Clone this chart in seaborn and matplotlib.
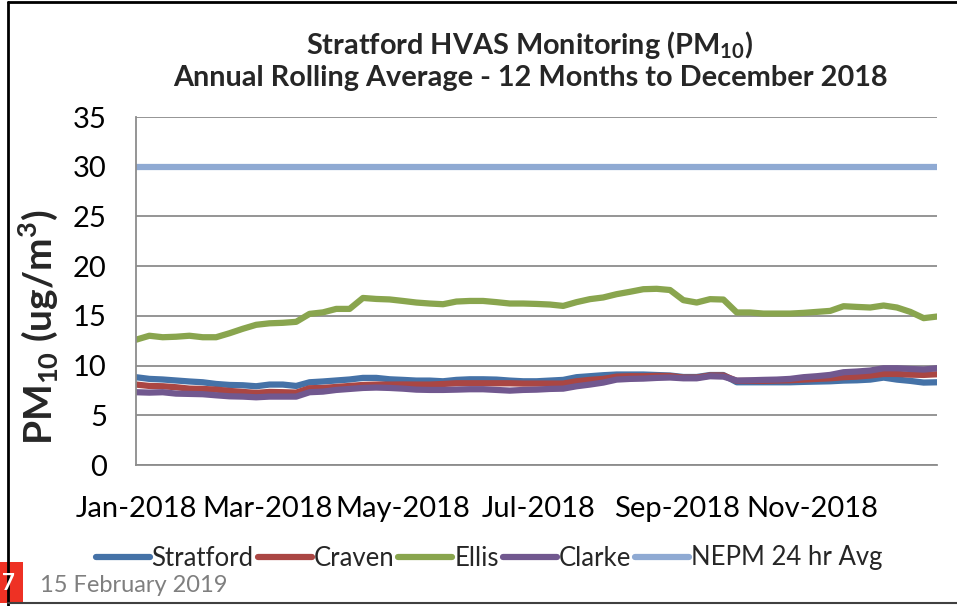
import matplotlib
matplotlib.use("Agg")
import matplotlib.pyplot as plt
import matplotlib.dates as mdates
from matplotlib.lines import Line2D
from matplotlib.patches import Rectangle
import seaborn as sns
import pandas as pd

# HVAS samples every 6 days through 2018
dates = pd.date_range("2018-01-01", periods=61, freq="6D")

stratford = [8.83, 8.66, 8.60, 8.50, 8.40, 8.32, 8.15, 8.05, 8.02, 7.92,
             8.09, 8.09, 7.95, 8.32, 8.40, 8.50, 8.60, 8.76, 8.76, 8.62,
             8.56, 8.49, 8.49, 8.42, 8.56, 8.62, 8.62, 8.59, 8.49, 8.42,
             8.42, 8.49, 8.56, 8.83, 8.93, 9.03, 9.10, 9.10, 9.10, 9.05,
             9.00, 8.85, 8.85, 9.05, 9.05, 8.32, 8.32, 8.32, 8.32, 8.32,
             8.36, 8.39, 8.42, 8.49, 8.52, 8.59, 8.79, 8.59, 8.46, 8.29, 8.32]
craven = [8.09, 7.95, 7.92, 7.82, 7.68, 7.65, 7.58, 7.45, 7.35, 7.25,
          7.35, 7.32, 7.28, 7.72, 7.75, 7.85, 7.95, 8.05, 8.09, 8.09,
          8.10, 8.09, 8.09, 8.15, 8.22, 8.22, 8.22, 8.22, 8.22, 8.19,
          8.19, 8.19, 8.19, 8.42, 8.56, 8.66, 8.89, 8.93, 8.93, 8.96,
          8.95, 8.79, 8.79, 9.00, 9.00, 8.46, 8.46, 8.46, 8.49, 8.52,
          8.59, 8.66, 8.72, 8.83, 8.89, 9.00, 9.16, 9.16, 9.09, 9.06, 9.13]
ellis = [12.60, 13.00, 12.85, 12.90, 13.00, 12.85, 12.85, 13.25, 13.70, 14.10,
         14.25, 14.30, 14.40, 15.20, 15.35, 15.70, 15.70, 16.80, 16.70, 16.65,
         16.50, 16.34, 16.24, 16.17, 16.44, 16.50, 16.50, 16.38, 16.24, 16.24,
         16.20, 16.14, 16.00, 16.38, 16.68, 16.85, 17.18, 17.42, 17.68, 17.72,
         17.60, 16.58, 16.34, 16.68, 16.64, 15.34, 15.34, 15.23, 15.23, 15.23,
         15.30, 15.40, 15.50, 15.97, 15.90, 15.84, 16.04, 15.84, 15.40, 14.77, 14.93]
clarke = [7.32, 7.28, 7.32, 7.18, 7.15, 7.12, 7.01, 6.91, 6.88, 6.81,
          6.88, 6.88, 6.88, 7.32, 7.38, 7.55, 7.65, 7.75, 7.79, 7.75,
          7.68, 7.58, 7.55, 7.55, 7.58, 7.62, 7.62, 7.55, 7.48, 7.55,
          7.58, 7.65, 7.68, 7.92, 8.09, 8.29, 8.59, 8.66, 8.69, 8.76,
          8.80, 8.72, 8.72, 8.93, 8.89, 8.49, 8.52, 8.56, 8.59, 8.66,
          8.83, 8.93, 9.06, 9.33, 9.40, 9.50, 9.73, 9.73, 9.66, 9.60, 9.73]
nepm_limit = 30.0

series_names = ["Stratford", "Craven", "Ellis", "Clarke", "NEPM 24 hr Avg"]
colors = ["#4572A7", "#AA4643", "#89A54E", "#71588F", "#8FAAD3"]

df = pd.DataFrame({"date": dates, "Stratford": stratford, "Craven": craven,
                   "Ellis": ellis, "Clarke": clarke})
df["NEPM 24 hr Avg"] = nepm_limit
long_df = df.melt(id_vars="date", var_name="site", value_name="pm10")

sns.set_style("white")
plt.rcParams["font.family"] = ["Lato", "DejaVu Sans"]
plt.rcParams["mathtext.fontset"] = "custom"
plt.rcParams["mathtext.rm"] = "Lato"
plt.rcParams["mathtext.bf"] = "Lato:bold"

W, H = 957, 606
fig = plt.figure(figsize=(W / 100, H / 100), dpi=100)
ax = fig.add_axes([136 / W, 1 - 465 / H, (937 - 136) / W, (465 - 117) / H])

sns.lineplot(data=long_df, x="date", y="pm10", hue="site", hue_order=series_names,
             palette=colors, linewidth=4.5, legend=False, ax=ax,
             solid_capstyle="round")

ax.set_ylim(0, 35)
ax.set_yticks(range(0, 36, 5))
ax.set_xlim(dates[0], dates[-1])
ax.xaxis.set_major_locator(mdates.MonthLocator(bymonth=[1, 3, 5, 7, 9, 11]))
ax.xaxis.set_major_formatter(mdates.DateFormatter("%b-%Y"))
ax.tick_params(axis="both", length=0, labelsize=21, colors="black")
ax.tick_params(axis="y", pad=21)
ax.tick_params(axis="x", pad=22)
ax.grid(axis="y", color="#8C8C8C", linewidth=1.3)
ax.set_axisbelow(True)
for side in ["top", "right"]:
    ax.spines[side].set_visible(False)
for side in ["left", "bottom"]:
    ax.spines[side].set_color("#8C8C8C")
    ax.spines[side].set_linewidth(1.3)
ax.set_xlabel("")
ax.set_ylabel(r"PM$_\mathbf{10}$ (ug/m$^\mathbf{3}$)", fontsize=28, fontweight="bold")
ax.yaxis.set_label_coords((60 - 136) / 801, (465 - 327) / 348)

fig.text(530 / W, 1 - 45 / H, r"Stratford HVAS Monitoring (PM$_\mathbf{10}$)",
         ha="center", va="center", fontsize=20.8, fontweight="bold")
fig.text(530 / W, 1 - 78 / H, "Annual Rolling Average - 12 Months to December 2018",
         ha="center", va="center", fontsize=20.8, fontweight="bold")

handles = [Line2D([], [], color=c, linewidth=4.5, solid_capstyle="round") for c in colors]
fig.legend(handles, series_names, loc="center", bbox_to_anchor=(489 / W, 1 - 558 / H),
           ncol=5, frameon=False, fontsize=18.5, handlelength=2.1, handletextpad=0.08,
           columnspacing=0.15, borderaxespad=0, borderpad=0)

fig.text(40 / W, 1 - 585 / H, "15 February 2019", ha="left", va="center",
         fontsize=17, color="#7F7F7F")

# slide frame
fig.add_artist(Line2D([8 / W, 1], [1 - 2 / H, 1 - 2 / H], color="black", linewidth=2))
fig.add_artist(Line2D([8 / W, 8 / W], [0, 1 - 2 / H], color="black", linewidth=2))
fig.add_artist(Line2D([8 / W, 1], [1 - 603 / H, 1 - 603 / H], color="#404040", linewidth=1.5))
fig.add_artist(Rectangle((0, 1 - 603 / H), 23 / W, 41 / H, transform=fig.transFigure,
                         facecolor="#EE3124", edgecolor="none"))
fig.text(2 / W, 1 - 583 / H, "7", ha="left", va="center", fontsize=16,
         fontweight="bold", color="white")

fig.savefig("out.png", dpi=100)
